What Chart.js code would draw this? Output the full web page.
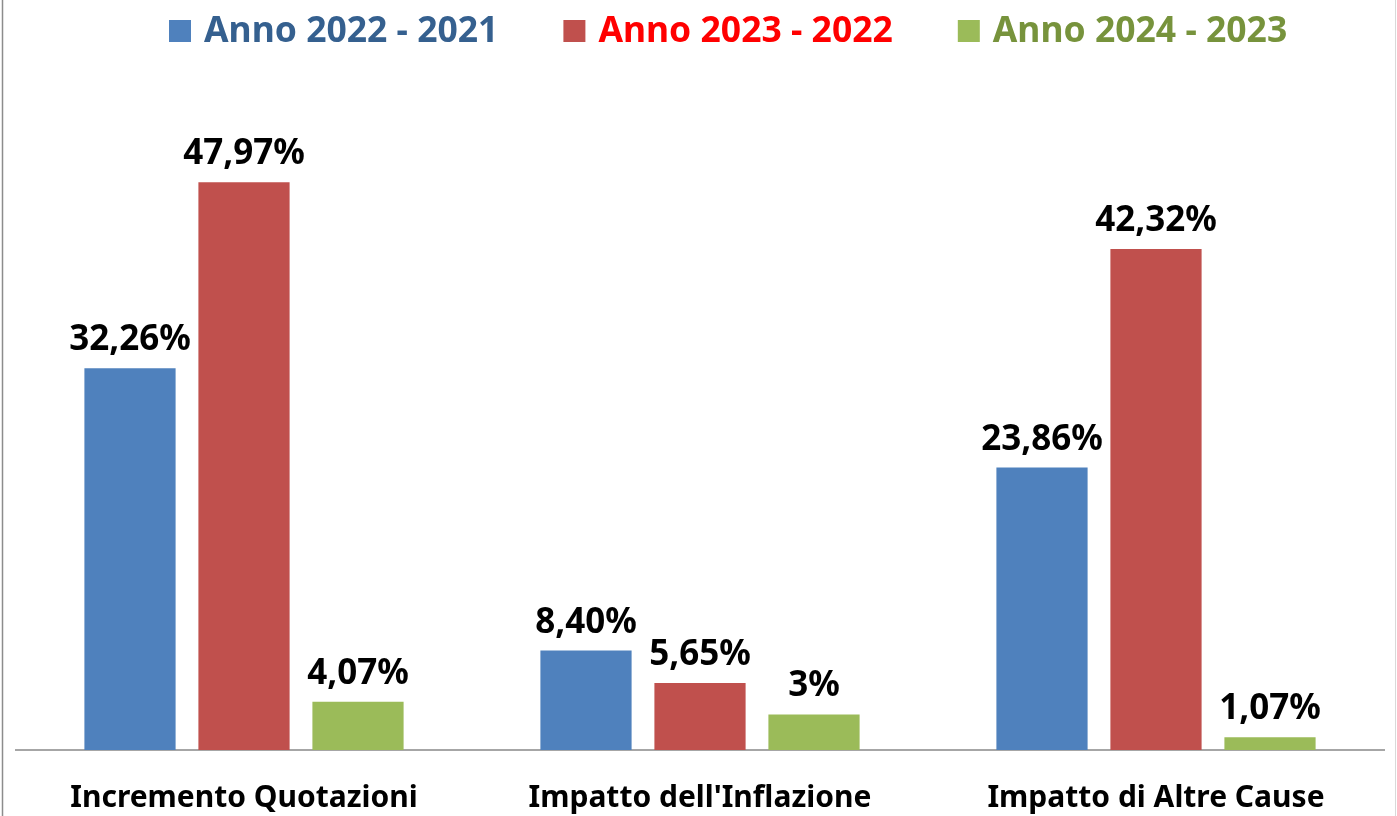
<!DOCTYPE html>
<html>
<head>
<meta charset="utf-8">
<title>Incremento Quotazioni</title>
<script src="https://cdn.jsdelivr.net/npm/chart.js@4/dist/chart.umd.min.js"></script>
<style>
  html, body { margin: 0; padding: 0; background: #fff; }
  #wrap { position: relative; width: 1397px; height: 816px; }
</style>
</head>
<body>
<div id="wrap"><canvas id="chart"></canvas></div>
<script>
// --- Data ---
const categories = ['Incremento Quotazioni', "Impatto dell'Inflazione", 'Impatto di Altre Cause'];
const seriesNames = ['Anno 2022 - 2021', 'Anno 2023 - 2022', 'Anno 2024 - 2023'];
const values2022 = [32.26, 8.40, 23.86];
const values2023 = [47.97, 5.65, 42.32];
const values2024 = [4.07, 3, 1.07];

const barColors = ['#4F81BD', '#C0504D', '#9BBB59'];
const legendTextColors = ['#35608F', '#FF0000', '#77933C'];
const FONT = "'Noto Sans', sans-serif";

// 8.4 -> "8,40%", 3 -> "3%"
function fmt(v) {
  if (Number.isInteger(v)) return v + '%';
  return v.toFixed(2).replace('.', ',') + '%';
}

// --- Plugins ---
// frame lines at left/right edge
const framePlugin = {
  id: 'frame',
  beforeDraw(chart) {
    const ctx = chart.ctx;
    ctx.save();
    ctx.fillStyle = '#fff';
    ctx.fillRect(0, 0, chart.width, chart.height);
    ctx.strokeStyle = '#8c8c8c';
    ctx.lineWidth = 1.5;
    ctx.beginPath();
    ctx.moveTo(2.5, 0); ctx.lineTo(2.5, chart.height);
    ctx.stroke();
    ctx.strokeStyle = '#d9d9d9';
    ctx.lineWidth = 1;
    ctx.beginPath();
    ctx.moveTo(1395.5, 0); ctx.lineTo(1395.5, chart.height);
    ctx.stroke();
    ctx.restore();
  }
};

// value labels above each bar
const valueLabels = {
  id: 'valueLabels',
  afterDatasetsDraw(chart) {
    const ctx = chart.ctx;
    ctx.save();
    ctx.font = 'bold 35px ' + FONT;
    ctx.fillStyle = '#000';
    ctx.textAlign = 'center';
    ctx.textBaseline = 'alphabetic';
    chart.data.datasets.forEach((ds, i) => {
      chart.getDatasetMeta(i).data.forEach((bar, j) => {
        ctx.fillText(fmt(ds.data[j]), bar.x, bar.y - 18);
      });
    });
    ctx.restore();
  }
};

// legend row on top, text coloured like the series
const topLegend = {
  id: 'topLegend',
  afterDraw(chart) {
    const ctx = chart.ctx;
    ctx.save();
    ctx.font = 'bold 35.5px ' + FONT;
    ctx.textBaseline = 'alphabetic';
    let x = 169;
    chart.data.datasets.forEach((ds, i) => {
      ctx.fillStyle = ds.backgroundColor;
      ctx.fillRect(x, 20, 22, 22);
      ctx.fillStyle = legendTextColors[i];
      ctx.fillText(ds.label, x + 35, 42);
      x += 35 + ctx.measureText(ds.label).width + 65;
    });
    ctx.restore();
  }
};

// --- Chart ---
new Chart(document.getElementById('chart'), {
  type: 'bar',
  data: {
    labels: categories,
    datasets: [
      { label: seriesNames[0], data: values2022, backgroundColor: barColors[0] },
      { label: seriesNames[1], data: values2023, backgroundColor: barColors[1] },
      { label: seriesNames[2], data: values2024, backgroundColor: barColors[2] },
    ]
  },
  options: {
    responsive: true,
    maintainAspectRatio: false,
    animation: false,
    layout: { padding: { top: 99, left: 16, right: 13, bottom: 0 } },
    datasets: { bar: { categoryPercentage: 0.75, barPercentage: 0.8 } },
    plugins: {
      legend: { display: false },
      tooltip: { enabled: false }
    },
    scales: {
      x: {
        grid: { display: false, drawTicks: false },
        border: { display: true, color: '#a6a6a6', width: 2 },
        ticks: { color: '#000', padding: 30, font: { family: FONT, size: 30, weight: 'bold' } },
        afterFit(scale) { scale.height = 66; }
      },
      y: {
        display: false,
        min: 0,
        max: 55
      }
    }
  },
  plugins: [framePlugin, valueLabels, topLegend]
});
</script>
</body>
</html>
